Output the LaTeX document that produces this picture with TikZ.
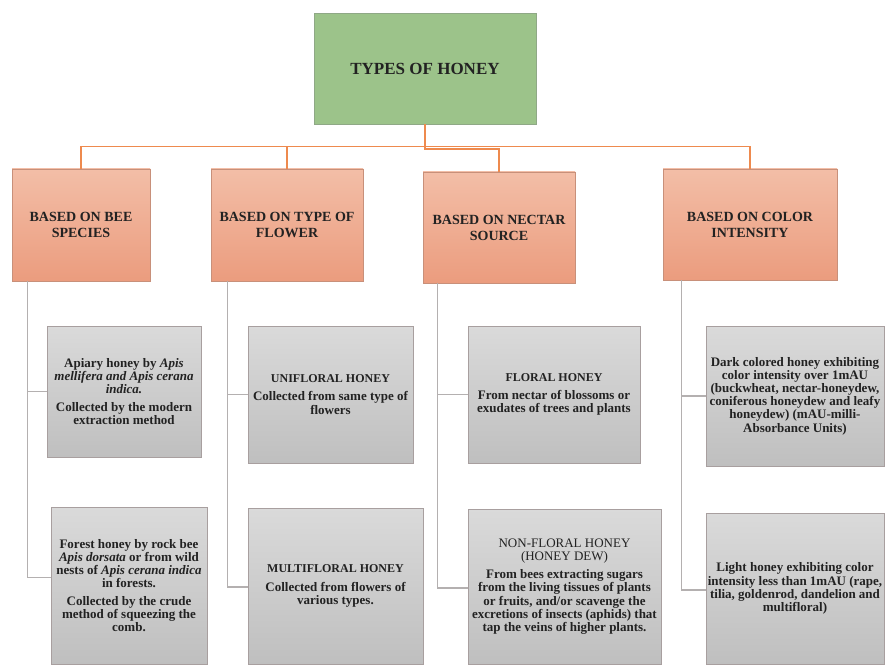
\documentclass[tikz,border=0pt]{standalone}
\usepackage{fontspec}
\setmainfont{Liberation Serif}
\usetikzlibrary{calc}
\definecolor{boxgreen}{HTML}{9CC38A}
\definecolor{greenborder}{HTML}{8FA886}
\definecolor{orangetop}{HTML}{F3BEA7}
\definecolor{orangebot}{HTML}{EB9C7E}
\definecolor{orangeborder}{HTML}{C8907A}
\definecolor{graytop}{HTML}{DADADA}
\definecolor{graybot}{HTML}{BFBFBF}
\definecolor{grayborder}{HTML}{A89F9F}
\definecolor{lineorange}{HTML}{EE8A4E}
\definecolor{linegray}{HTML}{B4B0B0}
\definecolor{textdark}{HTML}{222222}
\begin{document}
\begin{tikzpicture}[x=1pt,y=-1pt,
  topbox/.style={draw=greenborder, fill=boxgreen, minimum width=222pt, minimum height=111pt,
    font=\bfseries\fontsize{17}{20}\selectfont, text=textdark, inner sep=0pt},
  headbox/.style={draw=orangeborder, line width=0.8pt, top color=orangetop, bottom color=orangebot,
    font=\bfseries\fontsize{14}{16}\selectfont, text=textdark, align=center, inner sep=0pt},
  detbox/.style={draw=grayborder, line width=0.8pt, top color=graytop, bottom color=graybot,
    font=\bfseries\fontsize{13}{13.2}\selectfont, text=textdark, align=center, inner sep=0pt},
  ttl/.style={},
  orangeline/.style={draw=lineorange, line width=1.6pt},
  grayline/.style={draw=linegray, line width=1.2pt}]
\useasboundingbox (0,0) rectangle (889,666);
\fill[white] (0,0) rectangle (889,666);

% top
\node[topbox] (top) at (425,68.5) {TYPES OF HONEY};

% headings
\node[headbox, minimum width=138pt, minimum height=112pt] (bee) at (81,225) {BASED ON BEE\\SPECIES};
\node[headbox, minimum width=152pt, minimum height=112pt] (flower) at (287,225) {BASED ON TYPE OF\\FLOWER};
\node[headbox, minimum width=152pt, minimum height=111pt] (nectar) at (499,227.5) {BASED ON NECTAR\\SOURCE};
\node[headbox, minimum width=174pt, minimum height=111pt] (color) at (750,224.5) {BASED ON COLOR\\INTENSITY};

% details
\node[detbox, minimum width=154pt, minimum height=131pt] (d1) at (124,391.5)
 {Apiary honey by \textit{Apis}\\ \textit{mellifera and Apis cerana}\\ \textit{indica.}\\[4pt]
  Collected by the modern\\ extraction method};
\node[detbox, minimum width=156pt, minimum height=157pt] (d2) at (129,585.5)
 {Forest honey by rock bee\\ \textit{Apis dorsata} or from wild\\ nests of \textit{Apis cerana indica}\\ in forests.\\[4pt]
  Collected by the crude\\ method of squeezing the\\ comb.};
\node[detbox, minimum width=165pt, minimum height=137pt] (d3) at (330.5,394.5)
 {{\fontsize{12}{13}\selectfont UNIFLORAL HONEY}\\[5pt] Collected from same type of\\ flowers};
\node[detbox, minimum width=175pt, minimum height=156pt] (d4) at (335.5,586)
 {{\fontsize{12}{13}\selectfont MULTIFLORAL HONEY}\\[5pt] Collected from flowers of\\ various types.};
\node[detbox, minimum width=172pt, minimum height=137pt] (d5) at (554,394.5)
 {{\fontsize{12}{13}\selectfont FLORAL HONEY}\\[5pt] From nectar of blossoms or\\ exudates of trees and plants};
\node[detbox, minimum width=193pt, minimum height=155pt] (d6) at (564.5,586.5)
 {{\mdseries\fontsize{13}{13}\selectfont NON-FLORAL HONEY}\\ {\mdseries\fontsize{13}{13}\selectfont (HONEY DEW)}\\[5pt]
  From bees extracting sugars\\ from the living tissues of plants\\ or fruits, and/or scavenge the\\
  excretions of insects (aphids) that\\ tap the veins of higher plants.};
\node[detbox, minimum width=178pt, minimum height=140pt] (d7) at (795,396)
 {Dark colored honey exhibiting\\ color intensity over 1mAU\\ (buckwheat, nectar-honeydew,\\
  coniferous honeydew and leafy\\ honeydew) (mAU-milli-\\ Absorbance Units)};
\node[detbox, minimum width=178pt, minimum height=151pt] (d8) at (795,588.5)
 {Light honey exhibiting color\\ intensity less than 1mAU (rape,\\ tilia, goldenrod, dandelion and\\ multifloral)};

% orange connectors
\coordinate (hub) at (425,146.5);
\coordinate (hubn) at (499,149);
\draw[orangeline] (top.south) -- (hub);
\draw[orangeline] (bee.north) |- (hub) -| (color.north);
\draw[orangeline] (flower.north) -- (flower.north |- hub);
\draw[orangeline] (top.south) |- (hubn) -- (nectar.north);

% gray connectors
\draw[grayline] ([xshift=15.5pt]bee.south west) |- (d1.west);
\draw[grayline] ([xshift=15.5pt]bee.south west) |- ([yshift=8pt]d2.west);
\draw[grayline] ([xshift=17pt]flower.south west) |- (d3.west);
\draw[grayline] ([xshift=17pt]flower.south west) |- ([yshift=-1pt]d4.west);
\draw[grayline] ([xshift=15pt]nectar.south west) |- (d5.west);
\draw[grayline] ([xshift=15pt]nectar.south west) |- ([yshift=-1.5pt]d6.west);
\draw[grayline] ([xshift=19pt]color.south west) |- (d7.west);
\draw[grayline] ([xshift=19pt]color.south west) |- ([yshift=-1.5pt]d8.west);
\end{tikzpicture}
\end{document}
